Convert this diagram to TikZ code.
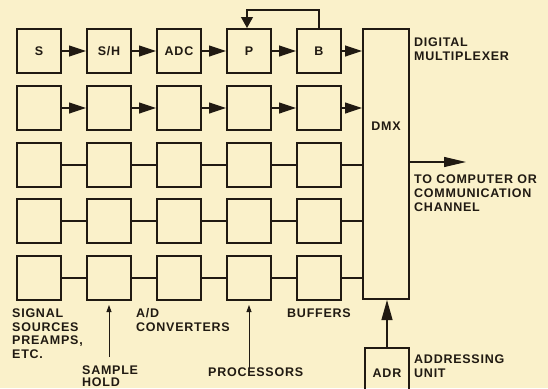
\documentclass[tikz,border=0pt]{standalone}
\usepackage{fontspec}
\setmainfont{Liberation Sans}[LetterSpace=6]
\usetikzlibrary{arrows.meta,calc}
\definecolor{paper}{RGB}{250,241,202}
\definecolor{ink}{RGB}{32,26,18}
\newcommand{\lblfont}{\fontsize{12.5}{14}\selectfont\bfseries}
\begin{document}
\begin{tikzpicture}[x=1pt,y=-1pt,
  blk/.style={draw=ink,line width=2pt,minimum width=44pt,minimum height=44pt,inner sep=0pt,anchor=north west,font=\lblfont,text=ink},
  lab/.style={inner sep=0pt,anchor=base west,align=left,font=\lblfont,text=ink},
  con/.style={draw=ink,line width=1.2pt},
  arr/.style={con,-{Triangle[length=17pt,width=11pt]}},
  tick/.style={draw=ink,line width=0.8pt,-{Triangle[length=7pt,width=5pt]}}]
\fill[paper] (0,0) rectangle (548,388);
\useasboundingbox (0,0) rectangle (548,388);
\clip (0,0) rectangle (548,388);
% row 1
\node[blk] (b11) at (16,28) {S};
\node[blk] (b12) at (86,28) {S/H};
\node[blk] (b13) at (156,28) {ADC};
\node[blk] (b14) at (226,28) {P};
\node[blk] (b15) at (296,28) {B};
% rows 2-5
\foreach \r/\y in {2/85,3/142,4/198,5/255}
  \foreach \c/\x in {1/16,2/86,3/156,4/226,5/296}
    \node[blk] (b\r\c) at (\x,\y) {};
% multiplexer
\node[draw=ink,line width=2pt,minimum width=46pt,minimum height=270pt,inner sep=0pt,anchor=north west] (dmx) at (362,28) {};
\node[lab,anchor=base] (dmxt) at (386,130) {DMX};
% addressing unit
\node[blk,minimum width=44pt,minimum height=50pt] (adr) at (364,347) {ADR};
% row connectors
\foreach \r in {1,2}{
  \draw[arr] (b\r1) -- (b\r2);
  \draw[arr] (b\r2) -- (b\r3);
  \draw[arr] (b\r3) -- (b\r4);
  \draw[arr] (b\r4) -- (b\r5);
  \draw[arr] (b\r5) -- (b\r5 -| dmx.west);
}
\foreach \r in {3,4,5}{
  \draw[con] (b\r1) -- (b\r2);
  \draw[con] (b\r2) -- (b\r3);
  \draw[con] (b\r3) -- (b\r4);
  \draw[con] (b\r4) -- (b\r5);
  \draw[con] (b\r5) -- (b\r5 -| dmx.west);
}
% feedback
\draw[con,-{Triangle[length=11pt,width=12pt]}] (b15.north) -- ++(0,-18) -| ([xshift=-2pt]b14.north);
% output
\coordinate (out) at (466,162);
\draw[con,-{Triangle[length=22pt,width=10pt]}] (dmx.east |- out) -- (out);
% address
\draw[con,-{Triangle[length=20pt,width=11pt]}] (adr.north) -- (adr.north |- dmx.south);
% sample/processor pointers
\coordinate (shp) at (107,357);
\coordinate (prp) at (248,368);
\draw[tick] (b52.south |- shp) -- ([yshift=-4pt]b52.south);
\draw[tick] (b54.south |- prp) -- ([yshift=-4pt]b54.south);
% labels (anchored at the baseline of the last line)
\node[lab] (l1) at (414,60) {DIGITAL\\MULTIPLEXER};
\node[lab] (l2) at (414,211) {TO COMPUTER OR\\COMMUNICATION\\CHANNEL};
\node[lab,font=\fontsize{12.5}{13.5}\selectfont\bfseries] (l3) at (12,358) {SIGNAL\\SOURCES\\PREAMPS,\\ETC.};
\node[lab,font=\fontsize{12.5}{13.5}\selectfont\bfseries] (l4) at (136,331) {A/D\\CONVERTERS};
\node[lab,font=\fontsize{12.5}{12}\selectfont\bfseries] (l5) at (82,386.5) {SAMPLE\\HOLD};
\node[lab] (l6) at (208,376) {PROCESSORS};
\node[lab] (l7) at (287,317) {BUFFERS};
\node[lab] (l8) at (414,377) {ADDRESSING\\UNIT};
\end{tikzpicture}
\end{document}
